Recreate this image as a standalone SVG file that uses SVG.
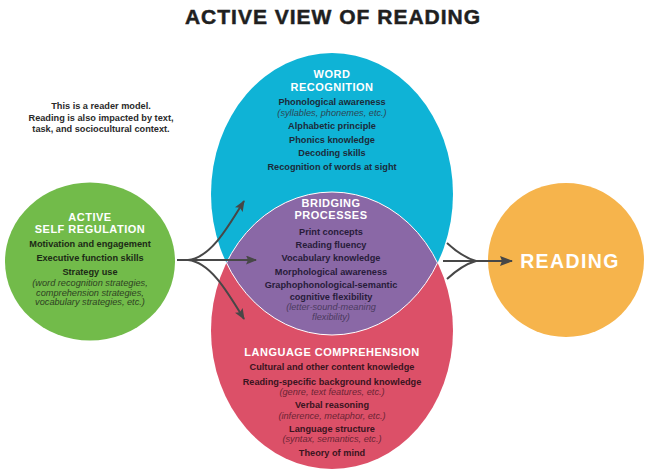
<svg xmlns="http://www.w3.org/2000/svg" width="646" height="474" viewBox="0 0 646 474">
<style>
text{font-family:"Liberation Sans",Arial,sans-serif;text-anchor:middle}
.title{font-size:21px;font-weight:bold;fill:#1f1f1f;stroke:#1f1f1f;stroke-width:0.5px;letter-spacing:1px}
.h{font-size:11px;font-weight:bold;fill:#fff;letter-spacing:0.5px}
.b{font-size:9.2px;font-weight:bold}
.it{font-size:9.2px;font-style:italic}
.note{font-size:9.2px;font-weight:bold;fill:#2a2a2a}
.blue .b{fill:#1c2b3a}.blue .it{fill:#2c4654}
.purp .b{fill:#281c3a}.purp .it{fill:#4a3a5e}
.red .b{fill:#3a1420}.red .it{fill:#6b2434}
.green .b{fill:#1c2a16}.green .it{fill:#2e4222}
.conn path{fill:none;stroke:#474747;stroke-width:2}
</style>
<defs>
<clipPath id="clipRed"><ellipse cx="332" cy="330.5" rx="121" ry="138.5"/></clipPath>
<clipPath id="clipBlue"><ellipse cx="332" cy="194" rx="121" ry="141"/></clipPath>
<marker id="ah" markerWidth="11" markerHeight="9" refX="10" refY="4.5" orient="auto" markerUnits="userSpaceOnUse"><path d="M0,0 L11,4.5 L0,9 L2,4.5 z" fill="#474747"/></marker>
<marker id="ahL" markerWidth="13" markerHeight="10" refX="12" refY="5" orient="auto" markerUnits="userSpaceOnUse"><path d="M0,0 L13,5 L0,10 L2,5 z" fill="#474747"/></marker>
</defs>
<rect width="646" height="474" fill="#fff"/>
<g id="title"><text class="title" x="333" y="24">ACTIVE VIEW OF READING</text></g>
<g id="note">
<text class="note" x="101" y="109">This is a reader model.</text>
<text class="note" x="101" y="120.5">Reading is also impacted by text,</text>
<text class="note" x="101" y="132">task, and sociocultural context.</text>
</g>
<g id="word-recognition" class="blue">
<ellipse cx="332" cy="194" rx="121" ry="141" fill="#0fb3d6"/>
<text class="h" x="332" y="78">WORD</text>
<text class="h" x="332" y="90.5">RECOGNITION</text>
<text class="b" x="332" y="105">Phonological awareness</text>
<text class="it" x="332" y="115.5">(syllables, phonemes, etc.)</text>
<text class="b" x="332" y="129">Alphabetic principle</text>
<text class="b" x="332" y="142.5">Phonics knowledge</text>
<text class="b" x="332" y="156">Decoding skills</text>
<text class="b" x="332" y="169.5">Recognition of words at sight</text>
</g>
<g id="language-comprehension" class="red">
<ellipse cx="332" cy="330.5" rx="121" ry="138.5" fill="#dc5068"/>
<text class="h" x="332" y="355.5">LANGUAGE COMPREHENSION</text>
<text class="b" x="332" y="370">Cultural and other content knowledge</text>
<text class="b" x="332" y="384.5">Reading-specific background knowledge</text>
<text class="it" x="332" y="394.5">(genre, text features, etc.)</text>
<text class="b" x="332" y="408">Verbal reasoning</text>
<text class="it" x="332" y="418.5">(inference, metaphor, etc.)</text>
<text class="b" x="332" y="432">Language structure</text>
<text class="it" x="332" y="442">(syntax, semantics, etc.)</text>
<text class="b" x="332" y="456">Theory of mind</text>
</g>
<g id="bridging-processes" class="purp">
<ellipse cx="332" cy="194" rx="121" ry="141" fill="#8a68a6" clip-path="url(#clipRed)"/>
<ellipse cx="332" cy="194" rx="121" ry="141" fill="none" stroke="#fff" stroke-width="1" clip-path="url(#clipRed)"/>
<ellipse cx="332" cy="330.5" rx="121" ry="138.5" fill="none" stroke="#fff" stroke-width="1" clip-path="url(#clipBlue)"/>
<text class="h" x="331" y="207">BRIDGING</text>
<text class="h" x="331" y="219">PROCESSES</text>
<text class="b" x="331" y="234.5">Print concepts</text>
<text class="b" x="331" y="247.5">Reading fluency</text>
<text class="b" x="331" y="261">Vocabulary knowledge</text>
<text class="b" x="331" y="274.5">Morphological awareness</text>
<text class="b" x="331" y="288">Graphophonological-semantic</text>
<text class="b" x="331" y="299.5">cognitive flexibility</text>
<text class="it" x="331" y="309.5">(letter-sound-meaning</text>
<text class="it" x="331" y="319.5">flexibility)</text>
</g>
<g id="active-self-regulation" class="green">
<ellipse cx="90" cy="261.5" rx="85" ry="79" fill="#72bb4a"/>
<text class="h" x="90" y="221">ACTIVE</text>
<text class="h" x="90" y="233">SELF REGULATION</text>
<text class="b" x="90" y="247">Motivation and engagement</text>
<text class="b" x="90" y="261">Executive function skills</text>
<text class="b" x="90" y="274.5">Strategy use</text>
<text class="it" x="90" y="286">(word recognition strategies,</text>
<text class="it" x="90" y="295.5">comprehension strategies,</text>
<text class="it" x="90" y="305">vocabulary strategies, etc.)</text>
</g>
<g id="reading">
<ellipse cx="566" cy="260" rx="78" ry="77" fill="#f6b44c"/>
<text x="570" y="268" style="font-size:19.5px;font-weight:bold;fill:#fff;letter-spacing:1.4px">READING</text>
</g>
<g id="connectors" class="conn">
<path d="M177,260 L256,260" marker-end="url(#ah)"/>
<path d="M188,260 C210,258 227,229 244,201" marker-end="url(#ah)"/>
<path d="M188,260 C210,262 227,291 244,319" marker-end="url(#ah)"/>
<path d="M443,261 L512,261" marker-end="url(#ahL)"/>
<path d="M447,243 Q462,257 476,261"/>
<path d="M447,279 Q462,265 476,261"/>
</g>
</svg>
